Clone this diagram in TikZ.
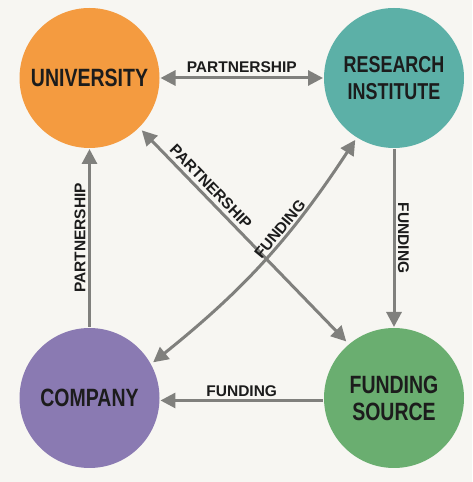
\documentclass[tikz,border=0pt]{standalone}
\usepackage{fontspec}
\setmainfont{Liberation Sans}
\newfontfamily\titlefont[FakeStretch=0.78]{Liberation Sans}
\usetikzlibrary{arrows.meta}
\definecolor{bg}{RGB}{247,246,242}
\definecolor{ink}{RGB}{28,28,28}
\definecolor{linkgray}{RGB}{128,128,125}
\definecolor{uniorange}{RGB}{244,155,64}
\definecolor{riteal}{RGB}{92,176,167}
\definecolor{copurple}{RGB}{138,122,178}
\definecolor{fsgreen}{RGB}{106,174,112}
\begin{document}
\begin{tikzpicture}[x=1pt,y=1pt,
  bigtip/.tip={Triangle[length=15pt,width=15pt]},
  hub/.style={circle, minimum size=140pt, inner sep=0pt, outer sep=1pt, text=ink,
    font=\titlefont\bfseries\fontsize{25}{27}\selectfont, align=center},
  link/.style={draw=linkgray, line width=3pt, -bigtip},
  lbl/.style={font=\bfseries\fontsize{15.5}{17}\selectfont, text=ink, inner sep=1pt, anchor=south, outer sep=3pt}]
\fill[bg] (0,0) rectangle (472,482);
\useasboundingbox (0,0) rectangle (472,482);
\node[hub, fill=uniorange] (uni) at (89.5,404) {UNIVERSITY};
\node[hub, fill=riteal, font=\titlefont\bfseries\fontsize{23}{26.5}\selectfont] (ri) at (394,404) {RESEARCH\\INSTITUTE};
\node[hub, fill=copurple] (co) at (89.5,84) {COMPANY};
\node[hub, fill=fsgreen] (fs) at (394,84) {FUNDING\\SOURCE};

\draw[link, bigtip-bigtip] (uni) -- node[lbl, outer sep=4pt] {PARTNERSHIP} (ri);
\draw[link] (ri) -- node[lbl, rotate=-90] {FUNDING} (fs);
\draw[link] (co) -- node[lbl, rotate=90] {PARTNERSHIP} (uni);
\draw[link] (fs.182) -- node[lbl] {FUNDING} (co.-2);
\draw[link, bigtip-bigtip, shorten <=3pt, shorten >=3pt] (uni.-45) -- node[lbl, sloped, pos=0.305, outer sep=4pt] {PARTNERSHIP} (fs.130);
\draw[link, bigtip-bigtip, shorten <=2pt, shorten >=2pt] (co.29) to[bend right=9] node[lbl, sloped, pos=0.62, outer sep=2pt] {FUNDING} (ri.238);
\end{tikzpicture}
\end{document}
